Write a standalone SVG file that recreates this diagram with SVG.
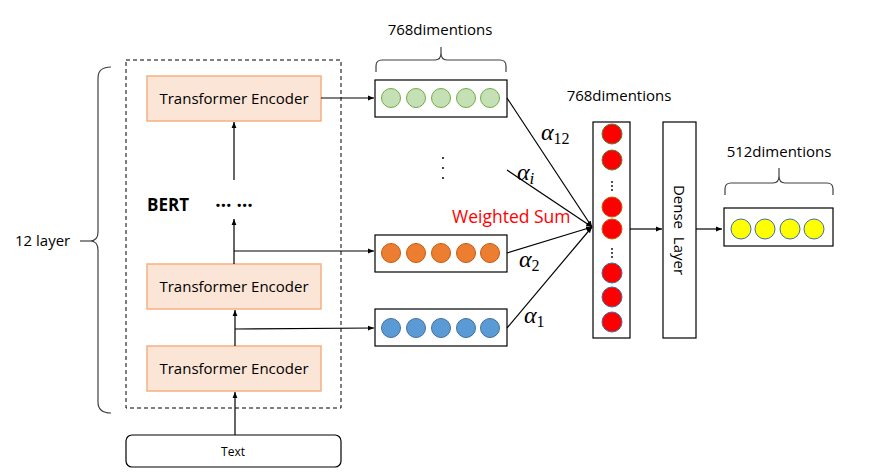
<svg xmlns="http://www.w3.org/2000/svg" width="876" height="475" viewBox="0 0 876 475">
<defs>
<marker id="ah" viewBox="0 0 10 10" refX="10" refY="5" markerWidth="6" markerHeight="6" orient="auto" markerUnits="userSpaceOnUse">
<path d="M0,1 L10,5 L0,9 z" fill="#000"/>
</marker>
<style>
.t{font-family:"Open Sans","Liberation Sans",sans-serif;fill:#000}
.te{fill:#fbe5d6;stroke:#f4b183;stroke-width:1.5}
.bx{fill:#fff;stroke:#000;stroke-width:1.2}
.ln{stroke:#000;stroke-width:1.2;fill:none}
.br{stroke:#404040;stroke-width:1.2;fill:none}
.g{fill:#c5e0b4;stroke:#70ad47;stroke-width:1}
.o{fill:#ed7d31;stroke:#c55a11;stroke-width:1}
.b{fill:#5b9bd5;stroke:#41719c;stroke-width:1}
.y{fill:#ffff00;stroke:#41719c;stroke-width:1}
.a{font-family:"Liberation Serif","DejaVu Serif",serif;font-style:italic;font-size:24px;fill:#000}
.s{font-family:"Liberation Serif","DejaVu Serif",serif;font-style:normal;font-size:16px}
.si{font-family:"Liberation Serif","DejaVu Serif",serif;font-style:italic;font-size:17px}
</style>
</defs>
<rect width="876" height="475" fill="#fff"/>

<g id="bert">
<rect x="126" y="60" width="215" height="348" fill="none" stroke="#000" stroke-width="1" stroke-dasharray="4,3"/>
<text class="t" x="147" y="211" font-size="17" font-weight="bold">BERT</text>
<text class="t" x="234" y="207" font-size="19" font-weight="bold" text-anchor="middle">… …</text>
</g>

<g id="brace-left">
<path class="br" d="M111,67 Q98,67 98,78 L98,232 Q98,241 90,241 Q98,241 98,250 L98,402 Q98,413 111,413"/>
<line class="br" x1="80" y1="241" x2="90" y2="241"/>
<text class="t" x="15" y="246" font-size="15">12 layer</text>
</g>

<g id="te3">
<rect class="te" x="147" y="76" width="174" height="45"/>
<text class="t" x="234" y="104" font-size="15" text-anchor="middle">Transformer Encoder</text>
</g>
<g id="te2">
<rect class="te" x="147" y="264" width="174" height="45"/>
<text class="t" x="234" y="292" font-size="15" text-anchor="middle">Transformer Encoder</text>
</g>
<g id="te1">
<rect class="te" x="147" y="346" width="174" height="45"/>
<text class="t" x="234" y="374" font-size="15" text-anchor="middle">Transformer Encoder</text>
</g>
<g id="text">
<rect x="126" y="435" width="215" height="32" rx="6" fill="#fff" stroke="#000" stroke-width="1.2"/>
<text class="t" x="233" y="456" font-size="12" text-anchor="middle">Text</text>
</g>

<g id="vec-green">
<rect class="bx" x="375" y="80" width="132" height="37"/>
<circle class="g" cx="391" cy="98" r="9.5"/>
<circle class="g" cx="416" cy="98" r="9.5"/>
<circle class="g" cx="441" cy="98" r="9.5"/>
<circle class="g" cx="466" cy="98" r="9.5"/>
<circle class="g" cx="490" cy="98" r="9.5"/>
<path class="br" d="M376,72 L376,66 Q376,60 382,60 L435,60 Q441,60 441,53 L441,47 M441,53 Q441,60 447,60 L500,60 Q506,60 506,66 L506,72"/>
<text class="t" x="440" y="35" font-size="15" text-anchor="middle">768dimentions</text>
</g>
<g id="vdots">
<circle cx="443" cy="158" r="1" fill="#000"/>
<circle cx="443" cy="168" r="1" fill="#000"/>
<circle cx="443" cy="178" r="1" fill="#000"/>
</g>
<g id="vec-orange">
<rect class="bx" x="375" y="235" width="132" height="37"/>
<circle class="o" cx="391" cy="253" r="9.5"/>
<circle class="o" cx="416" cy="253" r="9.5"/>
<circle class="o" cx="441" cy="253" r="9.5"/>
<circle class="o" cx="466" cy="253" r="9.5"/>
<circle class="o" cx="490" cy="253" r="9.5"/>
</g>
<g id="vec-blue">
<rect class="bx" x="375" y="309" width="132" height="37"/>
<circle class="b" cx="391" cy="328" r="9.5"/>
<circle class="b" cx="416" cy="328" r="9.5"/>
<circle class="b" cx="441" cy="328" r="9.5"/>
<circle class="b" cx="466" cy="328" r="9.5"/>
<circle class="b" cx="490" cy="328" r="9.5"/>
</g>

<g id="concat">
<rect class="bx" x="593" y="122" width="37" height="216"/>
<circle cx="612" cy="134" r="10" fill="#ff0000" stroke="#548235" stroke-width="1"/>
<circle cx="612" cy="160" r="10" fill="#ff0000" stroke="#548235" stroke-width="1"/>
<circle cx="612" cy="182" r="0.9" fill="#000"/>
<circle cx="612" cy="186" r="0.9" fill="#000"/>
<circle cx="612" cy="190" r="0.9" fill="#000"/>
<circle cx="612" cy="207" r="10" fill="#ff0000" stroke="#c55a11" stroke-width="1"/>
<circle cx="612" cy="229" r="10" fill="#ff0000" stroke="#c55a11" stroke-width="1"/>
<circle cx="612" cy="249" r="0.9" fill="#000"/>
<circle cx="612" cy="253" r="0.9" fill="#000"/>
<circle cx="612" cy="257" r="0.9" fill="#000"/>
<circle cx="612" cy="273" r="10" fill="#ff0000" stroke="#41719c" stroke-width="1"/>
<circle cx="612" cy="297" r="10" fill="#ff0000" stroke="#41719c" stroke-width="1"/>
<circle cx="612" cy="322" r="10" fill="#ff0000" stroke="#41719c" stroke-width="1"/>
<text class="t" x="619" y="101" font-size="15" text-anchor="middle">768dimentions</text>
</g>

<g id="dense">
<rect class="bx" x="663" y="122" width="33" height="216"/>
<text class="t" font-size="15" text-anchor="middle" transform="translate(674,230) rotate(90)" xml:space="preserve">Dense  Layer</text>
</g>

<g id="vec-yellow">
<rect class="bx" x="724" y="208" width="109" height="38"/>
<circle class="y" cx="741" cy="229" r="10"/>
<circle class="y" cx="765" cy="229" r="10"/>
<circle class="y" cx="790" cy="229" r="10"/>
<circle class="y" cx="814" cy="229" r="10"/>
<path class="br" d="M725,195 L725,189 Q725,183 731,183 L773,183 Q779,183 779,176 L779,168 M779,176 Q779,183 785,183 L827,183 Q833,183 833,189 L833,195"/>
<text class="t" x="779" y="157" font-size="15" text-anchor="middle">512dimentions</text>
</g>

<g id="labels">
<text x="452" y="223" font-family="Open Sans, Liberation Sans, sans-serif" font-size="17.5" fill="#ff0000">Weighted Sum</text>
<text class="a" x="541" y="140">α<tspan class="s" dy="4">12</tspan></text>
<text class="a" x="517" y="180">α<tspan class="si" dy="4">i</tspan></text>
<text class="a" x="519" y="267">α<tspan class="s" dy="4">2</tspan></text>
<text class="a" x="524" y="323">α<tspan class="s" dy="4">1</tspan></text>
</g>

<g id="connectors">
<line class="ln" x1="234" y1="180" x2="234" y2="122" marker-end="url(#ah)"/>
<line class="ln" x1="234" y1="264" x2="234" y2="219" marker-end="url(#ah)"/>
<line class="ln" x1="235" y1="346" x2="235" y2="310" marker-end="url(#ah)"/>
<line class="ln" x1="235" y1="435" x2="235" y2="392" marker-end="url(#ah)"/>
<line class="ln" x1="321" y1="98" x2="374" y2="98" marker-end="url(#ah)"/>
<polyline class="ln" points="234,251 374,251" marker-end="url(#ah)"/>
<polyline class="ln" points="235,329 374,328" marker-end="url(#ah)"/>
<line class="ln" x1="507" y1="98" x2="592" y2="227" marker-end="url(#ah)"/>
<line class="ln" x1="507" y1="170" x2="592" y2="227" marker-end="url(#ah)"/>
<line class="ln" x1="507" y1="253" x2="592" y2="227" marker-end="url(#ah)"/>
<line class="ln" x1="507" y1="328" x2="592" y2="227" marker-end="url(#ah)"/>
<line class="ln" x1="630" y1="229" x2="662" y2="229" marker-end="url(#ah)"/>
<line class="ln" x1="696" y1="229" x2="722" y2="229" marker-end="url(#ah)"/>
</g>
</svg>
